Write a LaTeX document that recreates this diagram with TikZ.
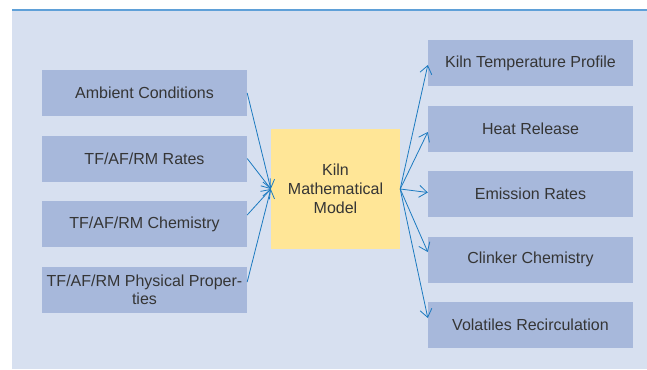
\documentclass[tikz,border=0pt]{standalone}
\usepackage{fontspec}
\setmainfont{Liberation Sans}
\usetikzlibrary{arrows.meta,positioning}
\definecolor{bgc}{HTML}{D7E0F0}
\definecolor{boxc}{HTML}{A7B8DB}
\definecolor{yelc}{HTML}{FFE697}
\definecolor{arrc}{HTML}{1C7AC0}
\definecolor{linec}{HTML}{5FA0D8}
\definecolor{txtc}{HTML}{353535}
\begin{document}
\begin{tikzpicture}[x=1pt,y=-1pt,
  inbox/.style={fill=boxc,minimum width=205pt,minimum height=46pt,inner sep=0pt,
     text=txtc,font=\fontsize{16}{18}\selectfont,align=center},
  modelbox/.style={fill=yelc,minimum width=129pt,minimum height=120pt,inner sep=0pt,
     text=txtc,font=\fontsize{16}{19}\selectfont,align=center},
  conn/.style={draw=arrc,line width=0.8pt,-{Straight Barb[length=8pt,width=12pt]}}]
\useasboundingbox (0,0) rectangle (647,369);
\fill[bgc] (12,10) rectangle (647,369);
\draw[linec,line width=1.5pt] (12,10) -- (647,10);
% inputs
\node[inbox] (amb) at (144.5,93) {Ambient Conditions};
\node[inbox] (rat) at (144.5,158.5) {TF/AF/RM Rates};
\node[inbox] (che) at (144.5,224) {TF/AF/RM Chemistry};
\node[inbox] (phy) at (144.5,290) {TF/AF/RM Physical Proper-\\ties};
% model
\node[modelbox] (mod) at (335.5,189) {Kiln\\Mathematical\\Model};
% outputs
\node[inbox] (ktp) at (530.5,63) {Kiln Temperature Profile};
\node[inbox] (hea) at (530.5,128.5) {Heat Release};
\node[inbox] (emi) at (530.5,193.5) {Emission Rates};
\node[inbox] (cli) at (530.5,259.5) {Clinker Chemistry};
\node[inbox] (vol) at (530.5,324.5) {Volatiles Recirculation};
% connectors
\draw[conn] (amb.east) -- (mod.west);
\draw[conn] (rat.east) -- (mod.west);
\draw[conn] ([yshift=9pt]che.east) -- (mod.west);
\draw[conn] ([yshift=8pt]phy.east) -- (mod.west);
\draw[conn] (mod.east) -- ([yshift=-2pt]ktp.west);
\draw[conn] (mod.east) -- ([yshift=-3.5pt]hea.west);
\draw[conn] (mod.east) -- ([yshift=1pt]emi.west);
\draw[conn] (mod.east) -- ([yshift=7.5pt]cli.west);
\draw[conn] (mod.east) -- ([yshift=6.5pt]vol.west);
\end{tikzpicture}
\end{document}
